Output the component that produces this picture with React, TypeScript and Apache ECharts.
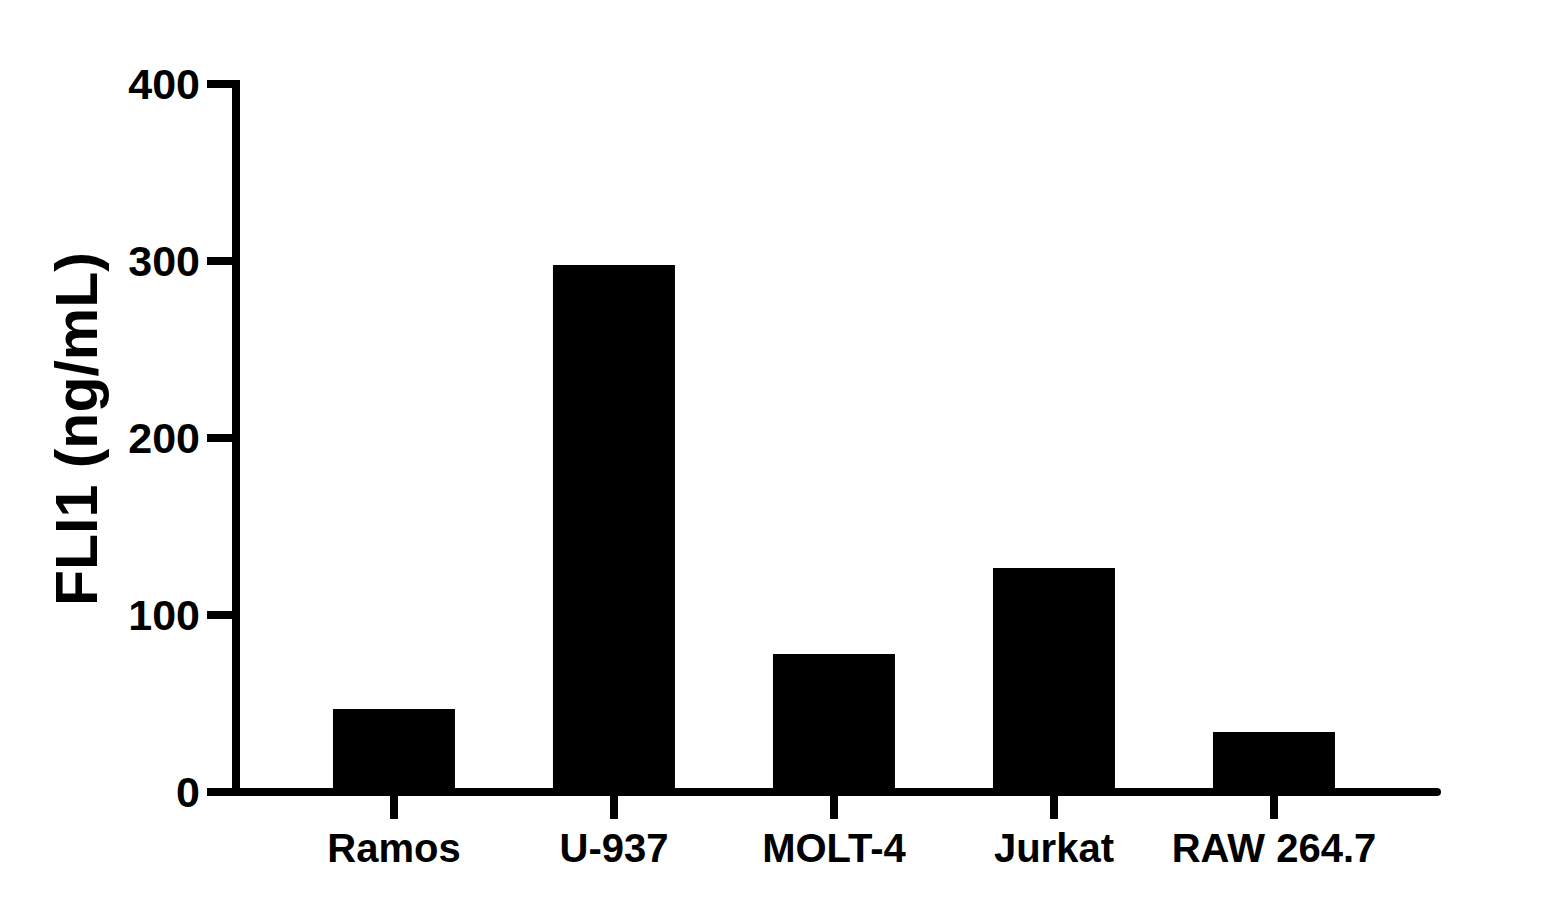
import React, { useEffect, useRef } from "react";
import * as echarts from "echarts";

const categories = ["Ramos", "U-937", "MOLT-4", "Jurkat", "RAW 264.7"];
const values = [46.9, 297.7, 78, 126.6, 33.9];
const yTicks = [0, 100, 200, 300, 400];
const yTitle = "FLI1 (ng/mL)";

export default function App() {
  const ref = useRef<HTMLDivElement>(null);
  useEffect(() => {
    if (!ref.current) return;
    const chart = echarts.init(ref.current, undefined, { renderer: "svg" });
    const font = "'Liberation Sans', Arial, sans-serif";
    const positions = categories.map((_, i) => i);
    chart.setOption({
      animation: false,
      backgroundColor: "#ffffff",
      grid: { left: 236, right: 130, top: 84, bottom: 122, containLabel: false },
      xAxis: {
        type: "value",
        min: -0.718,
        max: 4.741,
        splitLine: { show: false },
        axisLine: { show: true, onZero: false, lineStyle: { color: "#000", width: 8 } },
        axisTick: {
          show: true,
          customValues: positions,
          length: 27,
          lineStyle: { color: "#000", width: 8 },
        },
        axisLabel: {
          show: true,
          customValues: positions,
          formatter: (v: number) => categories[Math.round(v)] ?? "",
          margin: 36,
          color: "#000",
          fontFamily: font,
          fontWeight: "bold",
          fontSize: 40,
        },
      },
      yAxis: {
        type: "value",
        min: 0,
        max: 400,
        interval: 100,
        name: yTitle,
        nameLocation: "middle",
        nameGap: 130,
        nameTextStyle: {
          color: "#000",
          fontFamily: font,
          fontWeight: "bold",
          fontSize: 59,
          padding: [0, 0, 0, 18],
        },
        splitLine: { show: false },
        axisLine: { show: true, onZero: false, lineStyle: { color: "#000", width: 8, cap: "square" } },
        axisTick: { show: true, length: 29, lineStyle: { color: "#000", width: 8 } },
        axisLabel: {
          margin: 36,
          color: "#000",
          fontFamily: font,
          fontWeight: "bold",
          fontSize: 43,
          formatter: (v: number) => (yTicks.includes(v) ? String(v) : ""),
        },
      },
      series: [
        {
          type: "bar",
          data: values.map((v, i) => [positions[i], v]),
          barWidth: 122,
          itemStyle: { color: "#000" },
        },
      ],
    });
    return () => chart.dispose();
  }, []);
  return (
    <div
      ref={ref}
      style={{ position: "absolute", left: 0, top: 0, width: 1567, height: 914 }}
    />
  );
}
